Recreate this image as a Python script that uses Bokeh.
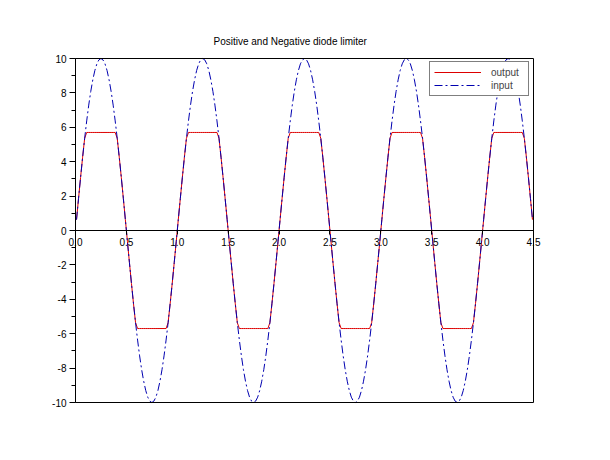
from bokeh.plotting import figure
from bokeh.models import (SingleIntervalTicker, FixedTicker, CustomJSTickFormatter, Legend, LegendItem,
                          ColumnDataSource, LinearAxis)
from bokeh.embed import file_html
from bokeh.resources import INLINE

# time samples (s)
time = [
    0.01, 0.03, 0.05, 0.07, 0.09, 0.11, 0.13, 0.15, 0.17, 0.19, 0.21, 0.23, 0.25, 0.27, 0.29, 0.31, 0.33, 0.35, 0.37, 0.39, 0.41, 0.43, 0.45, 0.47, 0.49,
    0.51, 0.53, 0.55, 0.57, 0.59, 0.61, 0.63, 0.65, 0.67, 0.69, 0.71, 0.73, 0.75, 0.77, 0.79, 0.81, 0.83, 0.85, 0.87, 0.89, 0.91, 0.93, 0.95, 0.97, 0.99,
    1.01, 1.03, 1.05, 1.07, 1.09, 1.11, 1.13, 1.15, 1.17, 1.19, 1.21, 1.23, 1.25, 1.27, 1.29, 1.31, 1.33, 1.35, 1.37, 1.39, 1.41, 1.43, 1.45, 1.47, 1.49,
    1.51, 1.53, 1.55, 1.57, 1.59, 1.61, 1.63, 1.65, 1.67, 1.69, 1.71, 1.73, 1.75, 1.77, 1.79, 1.81, 1.83, 1.85, 1.87, 1.89, 1.91, 1.93, 1.95, 1.97, 1.99,
    2.01, 2.03, 2.05, 2.07, 2.09, 2.11, 2.13, 2.15, 2.17, 2.19, 2.21, 2.23, 2.25, 2.27, 2.29, 2.31, 2.33, 2.35, 2.37, 2.39, 2.41, 2.43, 2.45, 2.47, 2.49,
    2.51, 2.53, 2.55, 2.57, 2.59, 2.61, 2.63, 2.65, 2.67, 2.69, 2.71, 2.73, 2.75, 2.77, 2.79, 2.81, 2.83, 2.85, 2.87, 2.89, 2.91, 2.93, 2.95, 2.97, 2.99,
    3.01, 3.03, 3.05, 3.07, 3.09, 3.11, 3.13, 3.15, 3.17, 3.19, 3.21, 3.23, 3.25, 3.27, 3.29, 3.31, 3.33, 3.35, 3.37, 3.39, 3.41, 3.43, 3.45, 3.47, 3.49,
    3.51, 3.53, 3.55, 3.57, 3.59, 3.61, 3.63, 3.65, 3.67, 3.69, 3.71, 3.73, 3.75, 3.77, 3.79, 3.81, 3.83, 3.85, 3.87, 3.89, 3.91, 3.93, 3.95, 3.97, 3.99,
    4.01, 4.03, 4.05, 4.07, 4.09, 4.11, 4.13, 4.15, 4.17, 4.19, 4.21, 4.23, 4.25, 4.27, 4.29, 4.31, 4.33, 4.35, 4.37, 4.39, 4.41, 4.43, 4.45, 4.47, 4.49,
]

# input signal (V)
input_v = [
    0.63, 1.87, 3.09, 4.26, 5.36, 6.37, 7.29, 8.09, 8.76, 9.30, 9.69, 9.92, 10.00, 9.92, 9.69, 9.30, 8.76, 8.09, 7.29, 6.37, 5.36, 4.26, 3.09, 1.87, 0.63,
    -0.63, -1.87, -3.09, -4.26, -5.36, -6.37, -7.29, -8.09, -8.76, -9.30, -9.69, -9.92, -10.00, -9.92, -9.69, -9.30, -8.76, -8.09, -7.29, -6.37, -5.36, -4.26, -3.09, -1.87, -0.63,
    0.63, 1.87, 3.09, 4.26, 5.36, 6.37, 7.29, 8.09, 8.76, 9.30, 9.69, 9.92, 10.00, 9.92, 9.69, 9.30, 8.76, 8.09, 7.29, 6.37, 5.36, 4.26, 3.09, 1.87, 0.63,
    -0.63, -1.87, -3.09, -4.26, -5.36, -6.37, -7.29, -8.09, -8.76, -9.30, -9.69, -9.92, -10.00, -9.92, -9.69, -9.30, -8.76, -8.09, -7.29, -6.37, -5.36, -4.26, -3.09, -1.87, -0.63,
    0.63, 1.87, 3.09, 4.26, 5.36, 6.37, 7.29, 8.09, 8.76, 9.30, 9.69, 9.92, 10.00, 9.92, 9.69, 9.30, 8.76, 8.09, 7.29, 6.37, 5.36, 4.26, 3.09, 1.87, 0.63,
    -0.63, -1.87, -3.09, -4.26, -5.36, -6.37, -7.29, -8.09, -8.76, -9.30, -9.69, -9.92, -10.00, -9.92, -9.69, -9.30, -8.76, -8.09, -7.29, -6.37, -5.36, -4.26, -3.09, -1.87, -0.63,
    0.63, 1.87, 3.09, 4.26, 5.36, 6.37, 7.29, 8.09, 8.76, 9.30, 9.69, 9.92, 10.00, 9.92, 9.69, 9.30, 8.76, 8.09, 7.29, 6.37, 5.36, 4.26, 3.09, 1.87, 0.63,
    -0.63, -1.87, -3.09, -4.26, -5.36, -6.37, -7.29, -8.09, -8.76, -9.30, -9.69, -9.92, -10.00, -9.92, -9.69, -9.30, -8.76, -8.09, -7.29, -6.37, -5.36, -4.26, -3.09, -1.87, -0.63,
    0.63, 1.87, 3.09, 4.26, 5.36, 6.37, 7.29, 8.09, 8.76, 9.30, 9.69, 9.92, 10.00, 9.92, 9.69, 9.30, 8.76, 8.09, 7.29, 6.37, 5.36, 4.26, 3.09, 1.87, 0.63,
]

# limited output signal (V)
output_v = [
    0.63, 1.87, 3.09, 4.26, 5.36, 5.70, 5.70, 5.70, 5.70, 5.70, 5.70, 5.70, 5.70, 5.70, 5.70, 5.70, 5.70, 5.70, 5.70, 5.70, 5.36, 4.26, 3.09, 1.87, 0.63,
    -0.63, -1.87, -3.09, -4.26, -5.36, -5.70, -5.70, -5.70, -5.70, -5.70, -5.70, -5.70, -5.70, -5.70, -5.70, -5.70, -5.70, -5.70, -5.70, -5.70, -5.36, -4.26, -3.09, -1.87, -0.63,
    0.63, 1.87, 3.09, 4.26, 5.36, 5.70, 5.70, 5.70, 5.70, 5.70, 5.70, 5.70, 5.70, 5.70, 5.70, 5.70, 5.70, 5.70, 5.70, 5.70, 5.36, 4.26, 3.09, 1.87, 0.63,
    -0.63, -1.87, -3.09, -4.26, -5.36, -5.70, -5.70, -5.70, -5.70, -5.70, -5.70, -5.70, -5.70, -5.70, -5.70, -5.70, -5.70, -5.70, -5.70, -5.70, -5.36, -4.26, -3.09, -1.87, -0.63,
    0.63, 1.87, 3.09, 4.26, 5.36, 5.70, 5.70, 5.70, 5.70, 5.70, 5.70, 5.70, 5.70, 5.70, 5.70, 5.70, 5.70, 5.70, 5.70, 5.70, 5.36, 4.26, 3.09, 1.87, 0.63,
    -0.63, -1.87, -3.09, -4.26, -5.36, -5.70, -5.70, -5.70, -5.70, -5.70, -5.70, -5.70, -5.70, -5.70, -5.70, -5.70, -5.70, -5.70, -5.70, -5.70, -5.36, -4.26, -3.09, -1.87, -0.63,
    0.63, 1.87, 3.09, 4.26, 5.36, 5.70, 5.70, 5.70, 5.70, 5.70, 5.70, 5.70, 5.70, 5.70, 5.70, 5.70, 5.70, 5.70, 5.70, 5.70, 5.36, 4.26, 3.09, 1.87, 0.63,
    -0.63, -1.87, -3.09, -4.26, -5.36, -5.70, -5.70, -5.70, -5.70, -5.70, -5.70, -5.70, -5.70, -5.70, -5.70, -5.70, -5.70, -5.70, -5.70, -5.70, -5.36, -4.26, -3.09, -1.87, -0.63,
    0.63, 1.87, 3.09, 4.26, 5.36, 5.70, 5.70, 5.70, 5.70, 5.70, 5.70, 5.70, 5.70, 5.70, 5.70, 5.70, 5.70, 5.70, 5.70, 5.70, 5.36, 4.26, 3.09, 1.87, 0.63,
]

x_tick_values = [0.0, 0.5, 1.0, 1.5, 2.0, 2.5, 3.0, 3.5, 4.0, 4.5]
x_limits = (0.0, 4.5)
y_limits = (-10.0, 10.0)

title_text = "Positive and Negative diode limiter"
series_names = ["output", "input"]

FONT = "Liberation Sans"

# layout: the visible box is 458 x 344 px; the frame is padded so axis labels drawn
# at the data origin are not clipped by the frame
BOX_W, BOX_H = 458, 344
PAD_L, PAD_R, PAD_T, PAD_B = 30, 12, 8, 8
sx = (x_limits[1] - x_limits[0]) / BOX_W
sy = (y_limits[1] - y_limits[0]) / BOX_H

p = figure(
    frame_width=BOX_W + PAD_L + PAD_R, frame_height=BOX_H + PAD_T + PAD_B,
    x_range=(x_limits[0] - PAD_L * sx, x_limits[1] + PAD_R * sx),
    y_range=(y_limits[0] - PAD_B * sy, y_limits[1] + PAD_T * sy),
    output_backend="svg", toolbar_location=None,
    min_border_left=75 - PAD_L, min_border_right=57, min_border_top=58 - PAD_T, min_border_bottom=34,
    background_fill_color="white", border_fill_color="white",
)
p.grid.visible = False
p.outline_line_color = None

p.title.text = title_text
p.title.align = "left"
p.title.offset = 138 + PAD_L
p.title.text_font = FONT
p.title.text_font_size = "10px"
p.title.text_font_style = "normal"
p.title.text_color = "black"
p.title.standoff = 15 - PAD_T

src = ColumnDataSource(dict(t=time, vin=input_v, vout=output_v))
r_out = p.line("t", "vout", source=src, line_color="#dd0000", line_width=1)
r_in = p.line("t", "vin", source=src, line_color="#0000b0", line_width=1, line_dash="8 3 2 3")

# y axis at x = 0
ya = p.yaxis[0]
ya.fixed_location = x_limits[0]
ya.bounds = y_limits
ya.ticker = SingleIntervalTicker(interval=2, num_minor_ticks=2)
ya.formatter = CustomJSTickFormatter(code="return tick.toFixed(0);")
ya.major_tick_out = 6
ya.major_tick_in = 0
ya.minor_tick_out = 4
ya.minor_tick_in = 0
ya.major_label_standoff = 3
ya.major_label_text_font = FONT
ya.major_label_text_font_size = "10px"
ya.major_label_text_color = "black"
ya.axis_line_color = "black"

# x axis at y = 0
xa = p.xaxis[0]
xa.fixed_location = 0
xa.bounds = x_limits
xa.ticker = FixedTicker(ticks=x_tick_values, minor_ticks=[])
xa.formatter = CustomJSTickFormatter(code="return tick.toFixed(1);")
xa.major_tick_out = 4
xa.major_tick_in = 0
xa.minor_tick_out = 0
xa.minor_tick_in = 0
xa.major_label_standoff = 3
xa.major_label_text_font = FONT
xa.major_label_text_font_size = "10px"
xa.major_label_text_color = "black"
xa.axis_line_color = "black"

# box edges (top, bottom, right) as bare axis lines
def bare_axis(loc, bounds):
    ax = LinearAxis(fixed_location=loc, bounds=bounds, major_tick_out=0, major_tick_in=0,
                    minor_tick_out=0, minor_tick_in=0, major_label_text_alpha=0,
                    major_label_text_font_size="1px", axis_line_color="black")
    ax.ticker = FixedTicker(ticks=[])
    return ax

p.add_layout(bare_axis(y_limits[1], x_limits), "above")
p.add_layout(bare_axis(y_limits[0], x_limits), "below")
p.add_layout(bare_axis(x_limits[1], y_limits), "right")

legend = Legend(items=[LegendItem(label=series_names[0], renderers=[r_out]),
                       LegendItem(label=series_names[1], renderers=[r_in])])
legend.margin = 0
legend.padding = 4
legend.spacing = 1
legend.glyph_width = 47
legend.glyph_height = 12
legend.label_standoff = 10
legend.label_width = 33
legend.label_text_font = FONT
legend.label_text_font_size = "10px"
legend.label_height = 12
legend.border_line_color = "black"
legend.border_line_width = 1
legend.background_fill_alpha = 1
legend.location = (354 + PAD_L, 306 + PAD_B)
p.add_layout(legend, "center")

open("out.html", "w").write(file_html(p, INLINE))
